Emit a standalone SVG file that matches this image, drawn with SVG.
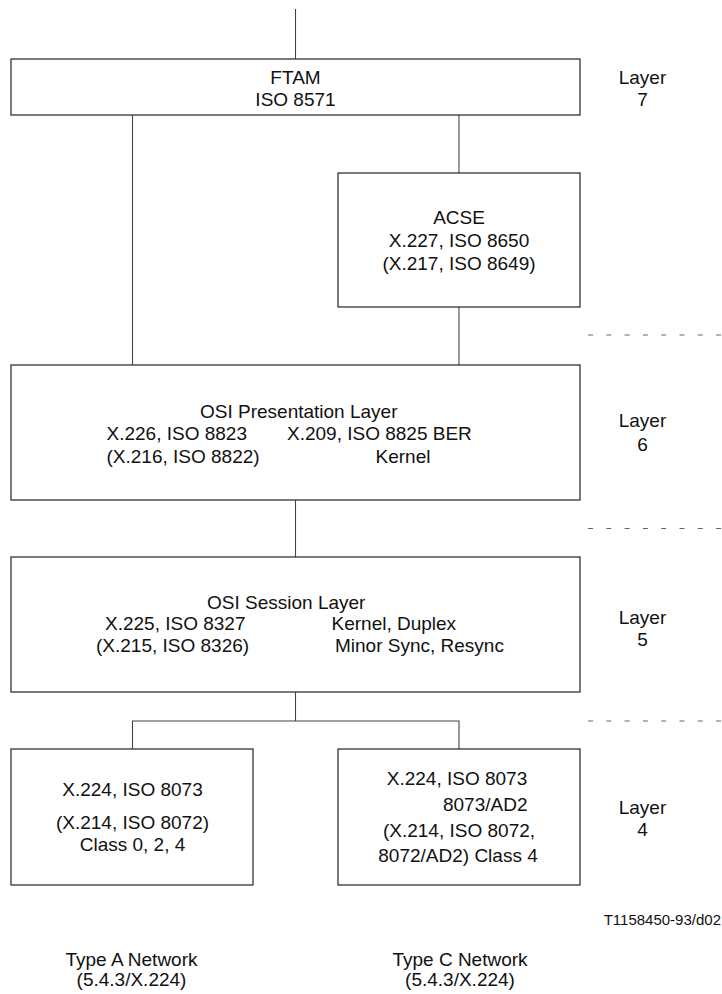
<svg xmlns="http://www.w3.org/2000/svg" width="722" height="994" viewBox="0 0 722 994">
<style>
.box{fill:#fff;stroke:#333;stroke-width:1.3}
.ln{fill:none;stroke:#444;stroke-width:1.1}
.dash{fill:none;stroke:#666;stroke-width:1;stroke-dasharray:5 13.3}
text{font-family:"Liberation Sans",Arial,sans-serif;font-size:19px;fill:#111}
.c{text-anchor:middle}
.small{font-size:15px}
</style>
<rect width="722" height="994" fill="#fff"/>
<g id="connectors">
<line class="ln" x1="295.5" y1="9" x2="295.5" y2="59"/>
<line class="ln" x1="132.5" y1="115" x2="132.5" y2="365"/>
<line class="ln" x1="459" y1="115" x2="459" y2="173"/>
<line class="ln" x1="459" y1="307" x2="459" y2="365"/>
<line class="ln" x1="295.5" y1="500" x2="295.5" y2="557"/>
<line class="ln" x1="295.5" y1="692" x2="295.5" y2="721"/>
<polyline class="ln" points="132.5,749 132.5,721 459,721 459,749"/>
</g>
<g id="separators">
<line class="dash" x1="588" y1="335" x2="722" y2="335"/>
<line class="dash" x1="588" y1="528.5" x2="722" y2="528.5"/>
<line class="dash" x1="588" y1="721" x2="722" y2="721"/>
</g>
<g id="ftam">
<rect class="box" x="11" y="59" width="569" height="56"/>
<text class="c" x="295.5" y="83.5">FTAM</text>
<text class="c" x="295.5" y="106">ISO 8571</text>
</g>
<g id="acse">
<rect class="box" x="338" y="173" width="242" height="134"/>
<text class="c" x="459" y="223.5">ACSE</text>
<text class="c" x="459" y="246.5">X.227, ISO 8650</text>
<text class="c" x="459" y="270">(X.217, ISO 8649)</text>
</g>
<g id="presentation">
<rect class="box" x="11" y="365" width="569" height="135"/>
<text x="200" y="417.5">OSI Presentation Layer</text>
<text x="106.5" y="440">X.226, ISO 8823</text>
<text x="287" y="440">X.209, ISO 8825 BER</text>
<text x="106.5" y="462.5">(X.216, ISO 8822)</text>
<text class="c" x="403" y="462.5">Kernel</text>
</g>
<g id="session">
<rect class="box" x="11" y="557" width="569" height="135"/>
<text x="207" y="608.5">OSI Session Layer</text>
<text x="105" y="630">X.225, ISO 8327</text>
<text x="331.5" y="630">Kernel, Duplex</text>
<text x="96" y="652">(X.215, ISO 8326)</text>
<text x="335" y="652">Minor Sync, Resync</text>
</g>
<g id="transport-a">
<rect class="box" x="11" y="749" width="242" height="136"/>
<text class="c" x="132.5" y="796">X.224, ISO 8073</text>
<text class="c" x="132.5" y="828.5">(X.214, ISO 8072)</text>
<text class="c" x="132.5" y="851">Class 0, 2, 4</text>
</g>
<g id="transport-c">
<rect class="box" x="338" y="749" width="242" height="136"/>
<text class="c" x="457" y="785">X.224, ISO 8073</text>
<text x="527.5" y="810.5" style="text-anchor:end">8073/AD2</text>
<text class="c" x="459" y="836.5">(X.214, ISO 8072,</text>
<text class="c" x="458" y="861.5">8072/AD2) Class 4</text>
</g>
<g id="layer-labels">
<text class="c" x="642.5" y="83.5">Layer</text>
<text class="c" x="642.5" y="106">7</text>
<text class="c" x="642.5" y="427">Layer</text>
<text class="c" x="642.5" y="450.5">6</text>
<text class="c" x="642.5" y="623.5">Layer</text>
<text class="c" x="642.5" y="646">5</text>
<text class="c" x="642.5" y="813.5">Layer</text>
<text class="c" x="642.5" y="836">4</text>
</g>
<g id="captions">
<text class="small" x="721" y="925" style="text-anchor:end">T1158450-93/d02</text>
<text class="c" x="131.5" y="966">Type A Network</text>
<text class="c" x="131.5" y="986">(5.4.3/X.224)</text>
<text class="c" x="460" y="966">Type C Network</text>
<text class="c" x="460" y="986">(5.4.3/X.224)</text>
</g>
</svg>
